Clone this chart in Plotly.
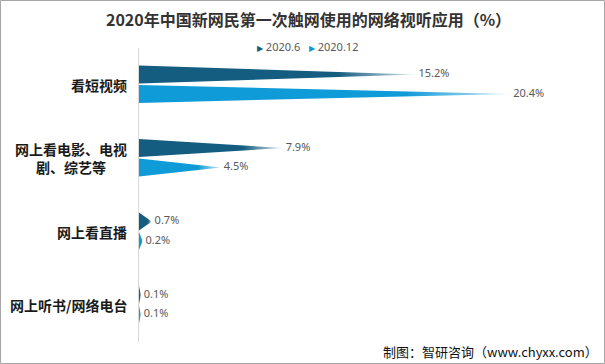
import plotly.graph_objects as go

categories = ["看短视频", "网上看电影、电视<br>剧、综艺等", "网上看直播", "网上听书/网络电台"]
series_names = ["2020.6", "2020.12"]
values_jun = [15.2, 7.9, 0.7, 0.1]
values_dec = [20.4, 4.5, 0.2, 0.1]
colors = ["#145d80", "#0f9bd7"]
fade = ["#d6e4ea", "#cdeaf6"]

W, H = 605, 364
L, R, T, B = 139, 11, 48, 22
PW, PH = W - L - R, H - T - B


def px_x(p):
    return (p - L) / PW


def px_y(p):
    return (H - B - p) / PH


fig = go.Figure()

offsets = [-0.14, 0.125]
half = 0.122

for si, (name, vals) in enumerate(zip(series_names, [values_jun, values_dec])):
    for ci, v in enumerate(vals):
        yc = ci + offsets[si]
        fig.add_trace(go.Scatter(
            x=[0, v, 0, 0], y=[yc - half, yc, yc + half, yc - half],
            mode="lines", line=dict(width=0), fill="toself",
            fillgradient=dict(type="horizontal",
                              colorscale=[[0, colors[si]], [0.72, colors[si]], [1, fade[si]]]),
            showlegend=False, hoverinfo="skip"))
    fig.add_trace(go.Scatter(
        x=vals, y=[ci + offsets[si] for ci in range(len(vals))],
        mode="text", text=[f" {v}%" for v in vals], textposition="middle right",
        textfont=dict(size=11, color="#595959", family="Noto Sans, Arial"),
        showlegend=False, hoverinfo="skip"))

annotations = []
for ci, c in enumerate(categories):
    annotations.append(dict(
        x=0, y=ci, xref="paper", yref="y", xanchor="right", yanchor="middle",
        xshift=-10, text=f"<b>{c}</b>", showarrow=False, align="center",
        font=dict(size=14, color="#1a1a1a", family="Noto Sans CJK SC")))

# legend drawn as text entries
legend_text = "   ".join(
    f"<span style='color:{col}; font-size:8px'>▶</span> {n}" for n, col in zip(series_names, colors))
annotations.append(dict(
    x=px_x(307), y=px_y(46), xref="paper", yref="paper", xanchor="center", yanchor="middle",
    text=legend_text, showarrow=False,
    font=dict(size=11, color="#595959", family="Noto Sans, Arial")))

annotations.append(dict(
    x=px_x(W - 5), y=px_y(H - 13), xref="paper", yref="paper", xanchor="right", yanchor="middle",
    text="制图：智研咨询（www.chyxx.com）", showarrow=False,
    font=dict(size=13, color="#111111", family="Noto Sans CJK SC")))

fig.update_layout(
    width=W, height=H,
    margin=dict(l=L, r=R, t=T, b=B, autoexpand=False),
    paper_bgcolor="white", plot_bgcolor="white",
    title=dict(text="<b>2020年中国新网民第一次触网使用的网络视听应用（%）</b>",
               x=0.51, xanchor="center", y=1 - 20 / H, yanchor="middle",
               font=dict(size=16, color="#333333", family="Noto Sans CJK SC")),
    xaxis=dict(range=[0, 25], visible=False, fixedrange=True),
    yaxis=dict(range=[3.5, -0.5], showticklabels=False, showgrid=False, zeroline=False,
               showline=True, linecolor="#d9d9d9", linewidth=1, fixedrange=True),
    annotations=annotations,
    shapes=[dict(type="rect", xref="paper", yref="paper",
                 x0=px_x(0.5), x1=px_x(W - 0.5),
                 y0=px_y(H - 0.5), y1=px_y(0.5),
                 line=dict(color="#a6a6a6", width=1))],
    showlegend=False,
)

fig.write_html("out.html", config={"displayModeBar": False},
               post_script="document.body.style.margin='0';document.body.style.overflow='hidden';")
